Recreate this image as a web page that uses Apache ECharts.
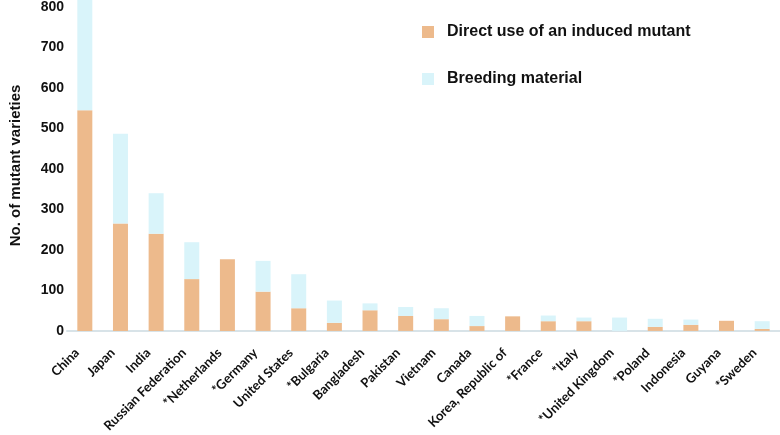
<!DOCTYPE html>
<html><head><meta charset="utf-8">
<script src="https://cdn.jsdelivr.net/npm/echarts@6/dist/echarts.min.js"></script>
<style>html,body{margin:0;padding:0;background:#fff}#c{width:780px;height:435px}</style>
</head><body><div id="c"></div>
<script>
const countries = ["China","Japan","India","Russian Federation","*Netherlands","*Germany","United States","*Bulgaria","Bangladesh","Pakistan","Vietnam","Canada","Korea, Republic of","*France","*Italy","*United Kingdom","*Poland","Indonesia","Guyana","*Sweden"];
const directUse = [545,265,240,128,177,97,56,20,51,37,29,12,36,24,24,0,10,15,25,5];
const breeding  = [280,222,100,91,0,76,84,55,17,22,27,25,0,14,9,33,20,13,0,19];
const seriesNames = ["Direct use of an induced mutant","Breeding material"];
const yTicks = [0,100,200,300,400,500,600,700,800];
const yName = "No. of mutant varieties";

const chart = echarts.init(document.getElementById('c'));
chart.setOption({
  animation:false,
  grid:{left:59,right:0,top:0,bottom:101,containLabel:false},
  legend:{
    orient:'vertical', left:417, top:19, itemWidth:12, itemHeight:12, itemGap:31,
    icon:'rect',
    textStyle:{fontFamily:'Liberation Sans', fontWeight:'bold', fontSize:16, color:'#111', padding:[0,0,0,8]},
    data:seriesNames
  },
  xAxis:{
    type:'category', data:countries,
    axisLine:{lineStyle:{color:'#d8e3e8',width:2}},
    axisTick:{show:false},
    axisLabel:{interval:0, rotate:45, margin:12, padding:[0,11,0,0], fontFamily:'Lato', fontWeight:'bold', fontSize:13, color:'#111'}
  },
  yAxis:{
    type:'value', min:0, max:817, interval:100,
    name:yName, nameLocation:'middle', nameGap:44, nameRotate:90,
    nameTextStyle:{fontFamily:'Liberation Sans', fontWeight:'bold', fontSize:15, color:'#111'},
    axisLine:{show:false}, axisTick:{show:false}, splitLine:{show:false},
    axisLabel:{showMaxLabel:false, margin:3, fontFamily:'Liberation Sans', fontWeight:'bold', fontSize:14, color:'#111',
      formatter:v=>yTicks.includes(v)?String(v):''}
  },
  series:[
    {name:seriesNames[0], type:'bar', stack:'t', barWidth:15, data:directUse, itemStyle:{color:'#edba8c'}},
    {name:seriesNames[1], type:'bar', stack:'t', barWidth:15, data:breeding, itemStyle:{color:'#d9f4fa'}}
  ]
});
</script></body></html>
